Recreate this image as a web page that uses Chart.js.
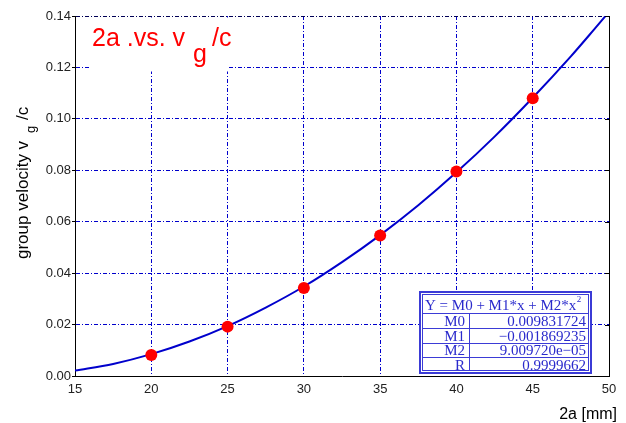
<!DOCTYPE html>
<html><head><meta charset="utf-8">
<script src="https://cdn.jsdelivr.net/npm/chart.js@4"></script>
<style>html,body{margin:0;padding:0;background:#fff}</style>
</head><body>
<canvas id="c" width="626" height="423"></canvas>
<script>
// ---- data ----
const pointX = [20, 25, 30, 35, 40, 45];
const pointY = [0.0082, 0.0192, 0.0342, 0.0546, 0.0795, 0.1080];
const curveX = [15, 17.5, 20, 22.5, 25, 27.5, 30, 32.5, 35, 37.5, 40, 42.5, 45, 47.5, 49, 50];
const curveY = [0.0021, 0.0047, 0.0085, 0.0134, 0.0194, 0.0266, 0.0348, 0.0443, 0.0548, 0.0664, 0.0792, 0.0931, 0.1082, 0.1243, 0.1346, 0.1416];
const xTickLabels = ['15', '20', '25', '30', '35', '40', '45', '50'];
const yTickLabels = ['0.00', '0.02', '0.04', '0.06', '0.08', '0.10', '0.12', '0.14'];
const fitHeader = 'Y = M0 + M1*x + M2*x';
const fitNames = ['M0', 'M1', 'M2', 'R'];
const fitValues = ['0.009831724', '\u22120.001869235', '9.009720e\u221205', '0.9999662'];

const SANS = '"Liberation Sans", Arial, sans-serif';
const SERIF = '"Liberation Serif", "Times New Roman", serif';
const GRID = '#0000cc';
const DASH = [4, 2, 1, 2];

const decor = {
  id: 'decor',
  beforeDatasetsDraw(chart) {
    const ctx = chart.ctx, ca = chart.chartArea;
    ctx.save();
    // white box under title
    ctx.fillStyle = '#fff';
    ctx.fillRect(89, ca.top + 1.5, 140, 54);
    // fit table
    const tx = 419, ty = 291, tw = 173, th = 83, colX = 469;
    ctx.fillRect(tx, ty, tw, th);
    ctx.strokeStyle = '#3b3bd6';
    ctx.lineWidth = 2;
    ctx.strokeRect(tx + 1, ty + 1, tw - 2, th - 2);
    ctx.lineWidth = 1;
    ctx.strokeRect(tx + 3.5, ty + 3.5, tw - 7, th - 7);
    const rows = [313.5, 328.5, 343.5, 357.5];
    rows.forEach(r => { ctx.beginPath(); ctx.moveTo(tx + 3.5, r); ctx.lineTo(tx + tw - 3.5, r); ctx.stroke(); });
    ctx.beginPath(); ctx.moveTo(colX + 0.5, rows[0]); ctx.lineTo(colX + 0.5, ty + th - 3.5); ctx.stroke();
    ctx.fillStyle = '#2a2acc';
    ctx.font = '15px ' + SERIF;
    ctx.textBaseline = 'alphabetic';
    ctx.textAlign = 'left';
    ctx.fillText(fitHeader, 425, 310);
    const hw = ctx.measureText(fitHeader).width;
    ctx.font = '9px ' + SERIF;
    ctx.fillText('2', 425 + hw + 0.5, 302);
    ctx.font = '15px ' + SERIF;
    const bases = [326, 341, 355, 370];
    ctx.textAlign = 'right';
    fitNames.forEach((n, i) => ctx.fillText(n, 465, bases[i]));
    fitValues.forEach((v, i) => ctx.fillText(v, 586, bases[i]));
    ctx.restore();
  },
  afterDraw(chart) {
    const ctx = chart.ctx, ca = chart.chartArea;
    const ys = chart.scales.y;
    ctx.save();
    // right border and inward ticks
    ctx.strokeStyle = '#000';
    ctx.lineWidth = 1;
    ctx.beginPath(); ctx.moveTo(ca.right + 0.5, ca.top); ctx.lineTo(ca.right + 0.5, ca.bottom + 0.5); ctx.stroke();
    ys.ticks.forEach(t => {
      const y = Math.round(ys.getPixelForValue(t.value)) + 0.5;
      ctx.beginPath(); ctx.moveTo(ca.right - 4, y); ctx.lineTo(ca.right, y); ctx.stroke();
    });
    // title
    ctx.fillStyle = '#ff0000';
    ctx.font = '25px ' + SANS;
    ctx.textAlign = 'left';
    ctx.textBaseline = 'alphabetic';
    ctx.fillText('2a .vs. v', 92, 46);
    ctx.fillText('g', 193, 62);
    ctx.fillText('/c', 212, 46);
    // x axis title
    ctx.fillStyle = '#000';
    ctx.font = '16px ' + SANS;
    ctx.textAlign = 'right';
    ctx.fillText('2a [mm]', 617, 419);
    // y axis title
    ctx.translate(28, 259);
    ctx.rotate(-Math.PI / 2);
    ctx.textAlign = 'left';
    ctx.font = '17px ' + SANS;
    const main = 'group velocity v';
    ctx.fillText(main, 0, 0);
    const mw = ctx.measureText(main).width;
    ctx.font = '13px ' + SANS;
    ctx.fillText('g', mw + 8, 7);
    ctx.font = '17px ' + SANS;
    ctx.fillText('/c', mw + 21, 0);
    ctx.restore();
  }
};

new Chart(document.getElementById('c'), {
  type: 'scatter',
  data: {
    datasets: [
      {
        data: curveX.map((x, i) => ({ x, y: curveY[i] })),
        showLine: true, borderColor: '#0000cc', borderWidth: 2,
        pointRadius: 0, cubicInterpolationMode: 'monotone', order: 2
      },
      {
        data: pointX.map((x, i) => ({ x, y: pointY[i] })),
        showLine: false, pointRadius: 6, pointHoverRadius: 6,
        backgroundColor: '#ff0000', borderColor: '#ff0000', borderWidth: 0, order: 1
      }
    ]
  },
  options: {
    responsive: false, animation: false, devicePixelRatio: 1,
    layout: { padding: { left: 0, right: 17, top: 16, bottom: 0 } },
    plugins: { legend: { display: false }, tooltip: { enabled: false } },
    events: [],
    scales: {
      x: {
        type: 'linear', min: 15, max: 50,
        afterFit(s) { s.height = 47; },
        ticks: { stepSize: 5, padding: 6, color: '#222', font: { family: SANS, size: 13 },
          callback: (v, i) => xTickLabels[i] },
        grid: { color: GRID, lineWidth: 1, drawTicks: false, tickBorderDash: [] },
        border: { color: '#000', width: 1, dash: DASH }
      },
      y: {
        min: 0, max: 0.14,
        afterFit(s) { s.width = 75; },
        ticks: { stepSize: 0.02, padding: 1, color: '#222', font: { family: SANS, size: 13 },
          callback: (v, i) => yTickLabels[i] },
        grid: { color: ctx => (ctx.tick && Math.abs(ctx.tick.value - 0.14) < 1e-9) ? '#000055' : GRID,
          lineWidth: 1, tickLength: 3, tickColor: '#000', tickBorderDash: [] },
        border: { color: '#000', width: 1, dash: DASH }
      }
    }
  },
  plugins: [decor]
});
</script>
</body></html>
